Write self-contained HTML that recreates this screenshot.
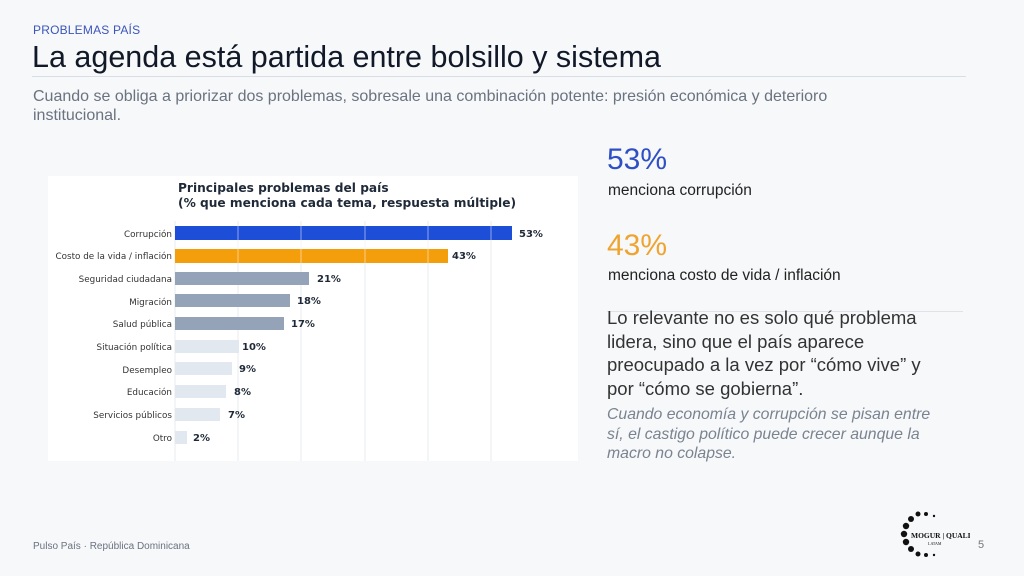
<!DOCTYPE html>
<html><head><meta charset="utf-8"><style>
body{margin:0;width:1024px;height:576px;background:#f6f8fa;position:relative;overflow:hidden;font-family:"Liberation Sans","DejaVu Sans",sans-serif}
.a{position:absolute;white-space:nowrap}
</style></head><body>
<div class="a" style="left:33px;top:23px;font-size:12px;color:#3b55b8;letter-spacing:0.2px">PROBLEMAS PAÍS</div>
<div class="a" style="left:32px;top:40px;font-size:30.5px;color:#111827">La agenda está partida entre bolsillo y sistema</div>
<div class="a" style="left:32px;top:76px;width:934px;height:1px;background:#d9dee6"></div>
<div class="a" style="left:33px;top:87px;font-size:16px;color:#6b7280;line-height:19px">Cuando se obliga a priorizar dos problemas, sobresale una combinación potente: presión económica y deterioro<br>institucional.</div>
<svg class="a" style="left:48px;top:176px" width="530" height="285" font-family="DejaVu Sans, sans-serif">
<rect width="530" height="285" fill="#fff"/>
<text x="130" y="16" font-size="12.2" font-weight="bold" fill="#1f2937">Principales problemas del país</text>
<text x="130" y="31" font-size="12.2" font-weight="bold" fill="#1f2937">(% que menciona cada tema, respuesta múltiple)</text>
<g stroke="#e8ebef" stroke-width="1">
<line x1="127" y1="45" x2="127" y2="285"/><line x1="190" y1="45" x2="190" y2="285"/><line x1="253" y1="45" x2="253" y2="285"/><line x1="317" y1="45" x2="317" y2="285"/><line x1="380" y1="45" x2="380" y2="285"/><line x1="443" y1="45" x2="443" y2="285"/>
</g>
<g font-size="8.8" fill="#333" text-anchor="end">
<text x="124" y="61">Corrupción</text><text x="124" y="83">Costo de la vida / inflación</text><text x="124" y="106">Seguridad ciudadana</text><text x="124" y="129">Migración</text><text x="124" y="151">Salud pública</text><text x="124" y="174">Situación política</text><text x="124" y="197">Desempleo</text><text x="124" y="219">Educación</text><text x="124" y="242">Servicios públicos</text><text x="124" y="265">Otro</text>
</g>
<rect x="127" y="50" width="337" height="14" fill="#1d4ed8"/>
<rect x="127" y="73" width="273" height="14" fill="#f59e0b"/>
<rect x="127" y="96" width="134" height="13" fill="#94a3b8"/>
<rect x="127" y="118" width="115" height="13" fill="#94a3b8"/>
<rect x="127" y="141" width="109" height="13" fill="#94a3b8"/>
<rect x="127" y="164" width="64" height="13" fill="#e2e8f0"/>
<rect x="127" y="186" width="57" height="13" fill="#e2e8f0"/>
<rect x="127" y="209" width="51" height="13" fill="#e2e8f0"/>
<rect x="127" y="232" width="45" height="13" fill="#e2e8f0"/>
<rect x="127" y="255" width="12" height="13" fill="#e2e8f0"/>
<g stroke="#fff" stroke-opacity="0.5"><line x1="190" y1="50" x2="190" y2="87"/><line x1="253" y1="50" x2="253" y2="87"/><line x1="317" y1="50" x2="317" y2="87"/><line x1="380" y1="50" x2="380" y2="87"/><line x1="443" y1="50" x2="443" y2="64"/></g>
<g font-size="10" font-weight="bold" fill="#1f2937">
<text x="471" y="61">53%</text><text x="404" y="83">43%</text><text x="269" y="106">21%</text><text x="249" y="128">18%</text><text x="243" y="151">17%</text><text x="194" y="174">10%</text><text x="191" y="196">9%</text><text x="186" y="219">8%</text><text x="180" y="242">7%</text><text x="145" y="265">2%</text>
</g>
</svg>
<div class="a" style="left:607px;top:143px;font-size:30px;color:#2f4fc4">53%</div>
<div class="a" style="left:608px;top:182px;font-size:15.5px;color:#222">menciona corrupción</div>
<div class="a" style="left:607px;top:229px;font-size:30px;color:#f0a430">43%</div>
<div class="a" style="left:608px;top:267px;font-size:15.5px;color:#222">menciona costo de vida / inflación</div>
<div class="a" style="left:607px;top:311px;width:356px;height:1px;background:#dfe3e8"></div>
<div class="a" style="left:607px;top:306px;font-size:18.5px;line-height:23.5px;color:#333">Lo relevante no es solo qué problema<br>lidera, sino que el país aparece<br>preocupado a la vez por “cómo vive” y<br>por “cómo se gobierna”.</div>
<div class="a" style="left:607px;top:405px;font-size:15.8px;line-height:19.5px;color:#7a8390;font-style:italic">Cuando economía y corrupción se pisan entre<br>sí, el castigo político puede crecer aunque la<br>macro no colapse.</div>
<div class="a" style="left:33px;top:541px;font-size:10px;color:#6b7280">Pulso País · República Dominicana</div>
<div class="a" style="left:978px;top:539px;font-size:11px;color:#777">5</div>
<svg class="a" style="left:900px;top:500px" width="70" height="60">
<g fill="#111"><circle cx="18" cy="14" r="2.5"/><circle cx="11" cy="19" r="3"/><circle cx="6" cy="26" r="3.2"/><circle cx="4" cy="34" r="3.2"/><circle cx="6" cy="42" r="3.2"/><circle cx="11" cy="49" r="3"/><circle cx="18" cy="54" r="2.5"/><circle cx="26" cy="14" r="2"/><circle cx="26" cy="55" r="2"/><circle cx="34" cy="16" r="1.2"/><circle cx="34" cy="55" r="1.2"/></g>
<text x="11" y="38" font-family="Liberation Serif,serif" font-size="7.5" font-weight="bold" fill="#111">MOGUR | QUALI</text>
<text x="28" y="45" font-family="Liberation Serif,serif" font-size="4" fill="#111">LATAM</text>
</svg>
</body></html>
